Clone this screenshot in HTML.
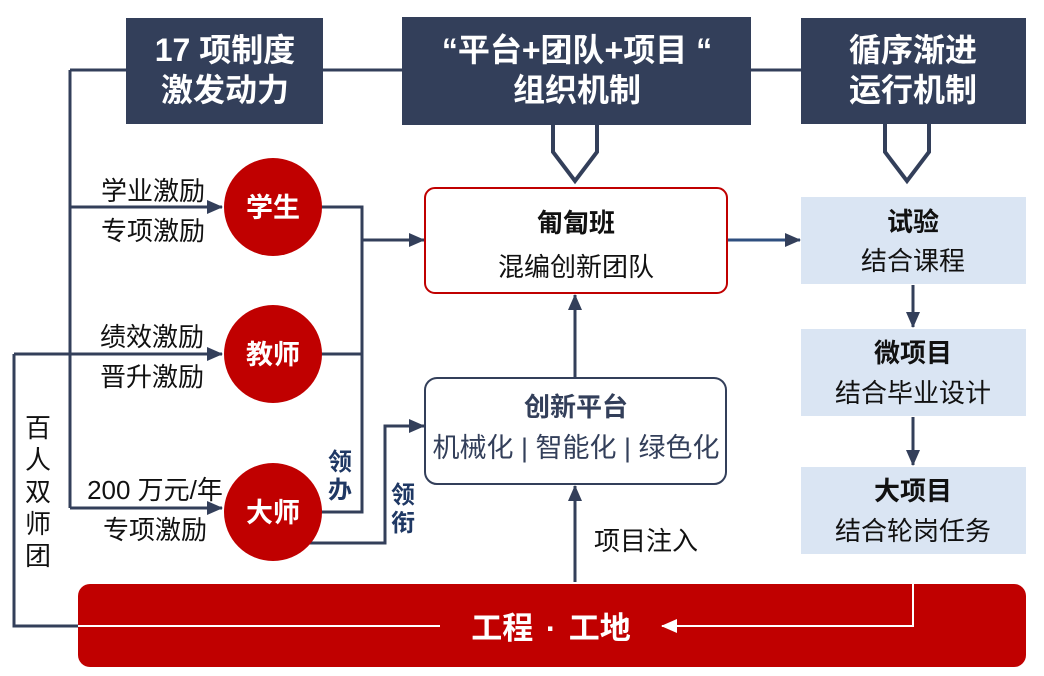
<!DOCTYPE html>
<html><head><meta charset="utf-8"><style>
html,body{margin:0;padding:0;background:#fff;}
svg{display:block;font-family:"Liberation Sans","Noto Sans CJK SC",sans-serif;}
</style></head><body>
<svg width="1044" height="676" viewBox="0 0 1044 676">
<defs>
<marker id="b" markerWidth="16" markerHeight="14" refX="15" refY="7" orient="auto" markerUnits="userSpaceOnUse"><path d="M0,0 L16,7 L0,14 z" fill="#333F5A"/></marker>
<marker id="w" markerWidth="16" markerHeight="14" refX="15" refY="7" orient="auto" markerUnits="userSpaceOnUse"><path d="M0,0 L16,7 L0,14 z" fill="#fff"/></marker>
</defs>
<g stroke="#333F5A" stroke-width="3" fill="none">
<path d="M70,70 H802"/>
<path d="M70,70 V508"/>
<path d="M70,207 H222" marker-end="url(#b)"/>
<path d="M14,354 H222" marker-end="url(#b)"/>
<path d="M70,508 H222" marker-end="url(#b)"/>
<path d="M14,354 V626 H80"/>
<path d="M320,207 H362 V512 H320"/>
<path d="M320,354 H362"/>
<path d="M362,240 H424" marker-end="url(#b)"/>
<path d="M308,543 H385 V426 H424" marker-end="url(#b)"/>
<path d="M727,240 H800" marker-end="url(#b)" stroke="#2F4F7F"/>
<path d="M575,378 V295" marker-end="url(#b)"/>
<path d="M575,582 V486" marker-end="url(#b)"/>
<path d="M913,285 V327" marker-end="url(#b)"/>
<path d="M913,417 V465" marker-end="url(#b)"/>
<path d="M553,125 V152 L575,181 L597,152 V125" stroke-width="4"/>
<path d="M885,124 V152 L907,181 L929,152 V124" stroke-width="4"/>
</g>
<rect x="126" y="18" width="197" height="106" fill="#333F5A"/>
<rect x="402" y="17" width="349" height="108" fill="#333F5A"/>
<rect x="801" y="18" width="225" height="106" fill="#333F5A"/>
<g fill="#fff" font-weight="bold" font-size="32" text-anchor="middle">
<text x="225" y="61">17 项制度</text><text x="225" y="101">激发动力</text>
<text x="577" y="61">“平台+团队+项目 “</text><text x="577" y="101">组织机制</text>
<text x="913" y="61">循序渐进</text><text x="913" y="101">运行机制</text>
</g>
<rect x="425" y="188" width="302" height="105" rx="10" fill="#fff" stroke="#C00000" stroke-width="2"/>
<rect x="425" y="378" width="301" height="106" rx="12" fill="#fff" stroke="#333F5A" stroke-width="2"/>
<g text-anchor="middle">
<text x="576" y="232" font-size="26" font-weight="bold" fill="#111">匍匐班</text>
<text x="576" y="276" font-size="26" fill="#111">混编创新团队</text>
<text x="576" y="416" font-size="26" font-weight="bold" fill="#333F5A">创新平台</text>
<text x="576" y="457" font-size="27" fill="#333F5A">机械化 | 智能化 | 绿色化</text>
</g>
<g fill="#DAE5F3"><rect x="801" y="197" width="225" height="87"/><rect x="801" y="329" width="225" height="87"/><rect x="801" y="467" width="225" height="87"/></g>
<g text-anchor="middle" font-size="26" fill="#111">
<text x="913" y="231" font-weight="bold">试验</text><text x="913" y="270">结合课程</text>
<text x="913" y="362" font-weight="bold">微项目</text><text x="913" y="402">结合毕业设计</text>
<text x="913" y="500" font-weight="bold">大项目</text><text x="913" y="540">结合轮岗任务</text>
</g>
<g fill="#C00000"><circle cx="273" cy="207" r="49"/><circle cx="273" cy="354" r="49"/><circle cx="273" cy="512" r="49"/></g>
<g fill="#fff" font-weight="bold" font-size="27" text-anchor="middle">
<text x="273" y="217">学生</text><text x="273" y="364">教师</text><text x="273" y="522">大师</text>
</g>
<g font-size="26" fill="#111" text-anchor="middle">
<text x="153" y="200">学业激励</text><text x="153" y="240">专项激励</text>
<text x="152" y="346">绩效激励</text><text x="152" y="386">晋升激励</text>
<text x="155" y="499">200 万元/年</text><text x="155" y="539">专项激励</text>
<text x="646" y="550">项目注入</text>
</g>
<g font-size="26" fill="#111" text-anchor="middle">
<text x="38" y="437">百</text><text x="38" y="469">人</text><text x="38" y="501">双</text><text x="38" y="533">师</text><text x="38" y="565">团</text>
</g>
<g font-size="24" font-weight="bold" fill="#1F3864" text-anchor="middle">
<text x="340" y="470">领</text><text x="340" y="498">办</text>
<text x="403" y="503">领</text><text x="403" y="531">衔</text>
</g>
<rect x="78" y="584" width="948" height="83" rx="12" fill="#C00000"/>
<path d="M78,626 H440" stroke="#fff" stroke-width="2"/>
<path d="M913,556 V626 H662" stroke="#fff" stroke-width="2" fill="none" marker-end="url(#w)"/>
<text x="551" y="639" fill="#fff" font-size="31" font-weight="bold" text-anchor="middle">工程 <tspan dx="4">·</tspan> <tspan dx="4">工地</tspan></text>
</svg>
</body></html>
